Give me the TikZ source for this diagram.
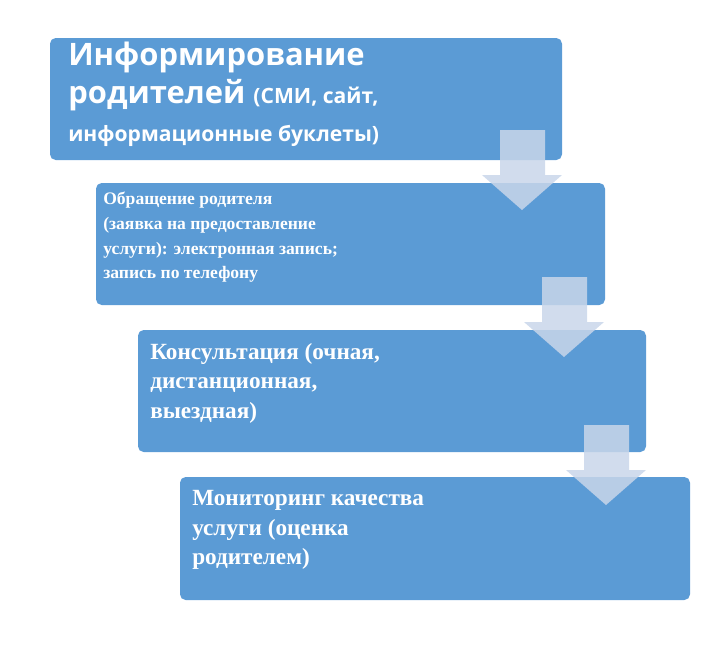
\documentclass[tikz,border=0pt]{standalone}
\usepackage{fontspec}
\setmainfont{Liberation Serif}
\newfontfamily\headfont{Open Sans}
\usetikzlibrary{positioning}

\definecolor{boxblue}{HTML}{5B9BD5}
\definecolor{arrowgrey}{HTML}{C9D6EA}

\begin{document}
\begin{tikzpicture}[x=0.025cm, y=-0.025cm,
    stepbox/.style={fill=boxblue, draw=none, rounded corners=4pt},
    steptext/.style={anchor=north west, inner sep=0pt, align=left, text=white, font=\bfseries},
    downarrow/.style={fill=arrowgrey, fill opacity=0.85, draw=none}]
    \useasboundingbox (0,0) rectangle (717,660);

    \fill[stepbox] (50,38) rectangle (562,160);
    \fill[stepbox] (96,183) rectangle (605,305);
    \fill[stepbox] (138,330) rectangle (646,452);
    \fill[stepbox] (180,477) rectangle (690,600);

    \foreach \dx/\dy in {0/0, 42/147, 84/295}
        \fill[downarrow, shift={(\dx,\dy)}] (500,130) -- (545,130) -- (545,175) -- (562,175)
            -- (522,210) -- (482,175) -- (500,175) -- cycle;

    \node[steptext, font=\headfont\bfseries\fontsize{22}{27}\selectfont] (inform) at (68,42)
        {Информирование\\родителей {\fontsize{15}{27}\selectfont (СМИ, сайт,}\\{\fontsize{15}{22}\selectfont информационные буклеты)}};
    \node[steptext, font=\bfseries\fontsize{12.5}{17.5}\selectfont] (request) at (103,192)
        {Обращение родителя\\(заявка на предоставление\\услуги): электронная запись;\\запись по телефону};
    \node[steptext, font=\bfseries\fontsize{16.5}{21}\selectfont] (consult) at (150,343)
        {Консультация (очная,\\дистанционная,\\выездная)};
    \node[steptext, font=\bfseries\fontsize{16.5}{21}\selectfont] (monitor) at (192,490)
        {Мониторинг качества\\услуги (оценка\\родителем)};
\end{tikzpicture}
\end{document}
